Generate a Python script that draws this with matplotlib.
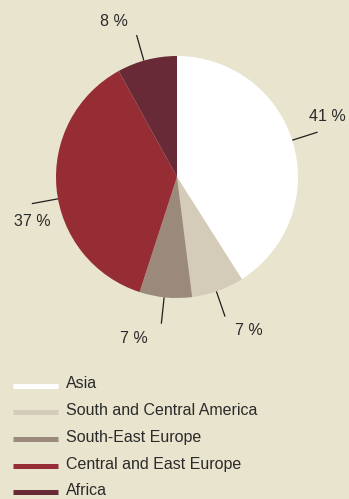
import numpy as np
import matplotlib
matplotlib.use("Agg")
import matplotlib.pyplot as plt
from matplotlib.lines import Line2D

plt.rcParams['font.family'] = ['Liberation Sans', 'DejaVu Sans']

# Data
regions = ["Asia", "South and Central America", "South-East Europe",
           "Central and East Europe", "Africa"]
shares = [41, 7, 7, 37, 8]
labels = ["41 %", "7 %", "7 %", "37 %", "8 %"]
colors = ["#FFFFFF", "#D4CCB9", "#9B8A7B", "#962D34", "#692A37"]

BG = "#E9E4CE"
TEXT = "#2A2A2A"

W, H, DPI = 349, 499, 100
fig = plt.figure(figsize=(W / DPI, H / DPI), dpi=DPI, facecolor=BG)

# Pie axes occupies the top 360 px; 1 data unit = R px
R = 121.0
cx, cy = 177.0, 177.0
top_h = 360.0
ax = fig.add_axes([0, (H - top_h) / H, 1, top_h / H])
ax.set_facecolor(BG)
ax.pie(shares, colors=colors, startangle=90, counterclock=False, radius=1,
       wedgeprops=dict(linewidth=0))
ax.set_aspect("auto")
ax.set_xlim(-cx / R, (W - cx) / R)
ax.set_ylim(-(top_h - cy) / R, cy / R)
ax.axis("off")

# Leader lines and percentage labels
angle_nudge = [1.5, -0.8, -0.7, 5.0, 1.5]           # degrees, leader direction
text_offsets = [(10, 16), (24, -14), (-27, -15), (1, -18), (-23, 14)]  # px from line end
cum = np.cumsum([0] + shares)
total = float(sum(shares))
for i, lab in enumerate(labels):
    mid = 90 - 360 * (cum[i] + cum[i + 1]) / 2 / total + angle_nudge[i]
    a = np.deg2rad(mid)
    x0, y0 = np.cos(a), np.sin(a)
    r_end = 1.22
    ax.plot([x0, r_end * x0], [y0, r_end * y0], color="#1E1E1E", lw=0.9,
            solid_capstyle="butt")
    dx, dy = text_offsets[i]
    ax.annotate(lab, xy=(r_end * x0, r_end * y0),
                xytext=(dx * 72 / DPI, dy * 72 / DPI), textcoords="offset points",
                ha="center", va="center", fontsize=11.5, color=TEXT)

# Legend drawn in figure pixel coordinates
row_y = [385.5, 412, 438.7, 465.5, 492]
for name, col, y in zip(regions, colors, row_y):
    fy = 1 - y / H
    fig.add_artist(Line2D([13 / W, 58 / W], [fy, fy], color=col, lw=3.6,
                          solid_capstyle="butt", transform=fig.transFigure))
    fig.text(66 / W, fy + 1.5 / H, name, ha="left", va="center",
             fontsize=11.5, color=TEXT)

fig.savefig("out.png", dpi=DPI, facecolor=BG)
